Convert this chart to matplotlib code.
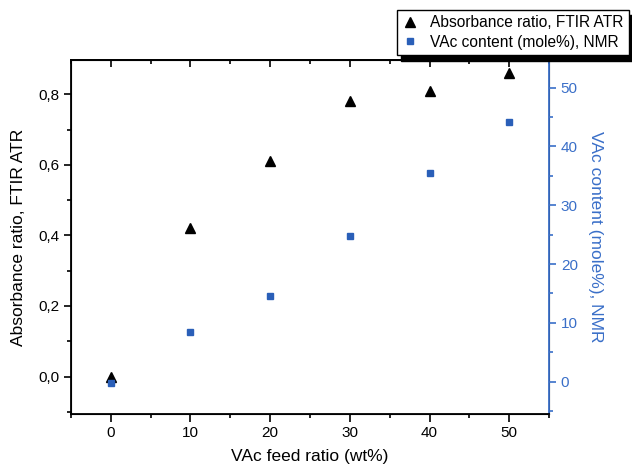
import matplotlib
matplotlib.use("Agg")
import matplotlib.pyplot as plt
from matplotlib.ticker import MultipleLocator, FuncFormatter

plt.rcParams['font.family'] = ['Liberation Sans', 'DejaVu Sans']

# data
feed = [0, 10, 20, 30, 40, 50]
absorbance = [0.0, 0.42, 0.61, 0.78, 0.81, 0.86]
vac_content = [-0.2, 8.5, 14.5, 24.7, 35.4, 44.2]

blue = '#3a6fc8'
sq_blue = '#2a5fb8'

fig = plt.figure(figsize=(6.32, 4.68), dpi=100)
ax = fig.add_axes([0.1123, 0.1154, 0.7564, 0.7564])
ax2 = ax.twinx()

h1, = ax.plot(feed, absorbance, '^', color='black', markersize=7.5,
              linestyle='none', label='Absorbance ratio, FTIR ATR')
h2, = ax2.plot(feed, vac_content, 's', color=sq_blue, markersize=5,
               linestyle='none', label='VAc content (mole%), NMR')

ax.set_xlim(-5, 55)
ax.set_ylim(-0.106, 0.897)
ax2.set_ylim(-5.5, 54.7)

comma = FuncFormatter(lambda v, p: ('%.1f' % v).replace('.', ','))
ax.yaxis.set_major_locator(MultipleLocator(0.2))
ax.yaxis.set_minor_locator(MultipleLocator(0.1))
ax.yaxis.set_major_formatter(comma)
ax.xaxis.set_major_locator(MultipleLocator(10))
ax.xaxis.set_minor_locator(MultipleLocator(5))
ax2.yaxis.set_major_locator(MultipleLocator(10))
ax2.yaxis.set_minor_locator(MultipleLocator(5))

ax.tick_params(axis='y', which='both', direction='out', labelsize=11, width=1.2)
ax.tick_params(axis='y', which='major', length=5)
ax.tick_params(axis='y', which='minor', length=3)
ax.tick_params(axis='x', which='both', direction='out', labelsize=11, width=1.2)
ax.tick_params(axis='x', which='major', length=6, pad=3)
ax.tick_params(axis='x', which='minor', length=3)
ax2.tick_params(axis='y', which='both', direction='out', colors=blue,
                labelsize=11, width=1.2)
ax2.tick_params(axis='y', which='major', length=5)
ax2.tick_params(axis='y', which='minor', length=3)

# inward ticks along the top edge
top = ax.secondary_xaxis('top')
top.xaxis.set_major_locator(MultipleLocator(10))
top.xaxis.set_minor_locator(MultipleLocator(5))
top.tick_params(axis='x', which='both', direction='in', labeltop=False, width=1.2)
top.tick_params(axis='x', which='major', length=5)
top.tick_params(axis='x', which='minor', length=3)
top.spines['top'].set_linewidth(1.3)

for s in ['left', 'bottom', 'top']:
    ax2.spines[s].set_color('black')
    ax2.spines[s].set_linewidth(1.3)
ax2.spines['right'].set_color(blue)
ax2.spines['right'].set_linewidth(1.3)

ax.set_xlabel('VAc feed ratio (wt%)', fontsize=12.5, labelpad=6)
ax.set_ylabel('Absorbance ratio, FTIR ATR', fontsize=12.5, labelpad=9)
ax2.set_ylabel('VAc content (mole%), NMR', fontsize=12.5, color=blue,
               rotation=270, labelpad=18)

fig.legend(handles=[h1, h2], loc='upper right', bbox_to_anchor=(0.995, 0.979),
           borderaxespad=0, fontsize=11.2, frameon=True, fancybox=False,
           edgecolor='black',
           shadow={'color': 'black', 'alpha': 1.0, 'ox': 3, 'oy': -4},
           handlelength=1.0, handletextpad=0.8, borderpad=0.35, labelspacing=0.3)

fig.savefig('out.png', dpi=100)
